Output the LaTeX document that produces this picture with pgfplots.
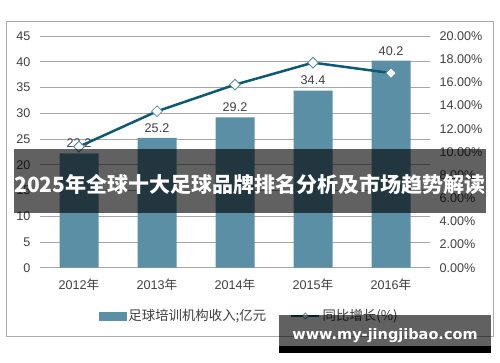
\documentclass[border=0pt]{standalone}
\usepackage{fontspec}
\setmainfont{Liberation Sans}
\newfontfamily\cjk{Noto Sans CJK SC}
\newfontfamily\dejavu{DejaVu Sans}
\usepackage{pgfplots}
\pgfplotsset{compat=1.18}
\definecolor{barc}{RGB}{91,143,166}
\definecolor{linec}{RGB}{12,90,115}
\definecolor{txt}{RGB}{64,64,64}
\definecolor{gridc}{RGB}{166,166,166}
\definecolor{framec}{RGB}{170,170,170}
\begin{document}
\begin{tikzpicture}[x=1pt,y=1pt]
\useasboundingbox (0,0) rectangle (500,362);
\fill[white] (0,0) rectangle (500,362);
\draw[framec, line width=1pt] (6,25.3) rectangle (493,340.3);

\begin{axis}[
  at={(40pt,94.3pt)}, anchor=south west,
  scale only axis, width=390pt, height=231.7pt,
  xmin=-0.5, xmax=4.5, ymin=0, ymax=45,
  xtick={0,1,2,3,4},
  xticklabels={{2012{\cjk 年}},{2013{\cjk 年}},{2014{\cjk 年}},{2015{\cjk 年}},{2016{\cjk 年}}},
  ytick={0,5,10,15,20,25,30,35,40,45},
  axis x line*=bottom, axis y line*=left,
  y axis line style={draw=none},
  x axis line style={gridc, line width=1pt},
  major tick length=0pt,
  ymajorgrids, grid style={gridc, line width=0.9pt},
  tick label style={font=\fontsize{12.6}{14}\selectfont, text=txt},
  /pgf/number format/assume math mode=true,
  xticklabel style={yshift=-8pt},
  yticklabel style={xshift=-6pt},
  ybar, bar width=39pt,
  nodes near coords,
  nodes near coords style={font=\fontsize{12.6}{14}\selectfont, text=txt, /pgf/number format/fixed, /pgf/number format/precision=1, /pgf/number format/fixed zerofill, yshift=2pt},
]
\addplot[fill=barc, draw=none] coordinates {(0,22.2) (1,25.2) (2,29.2) (3,34.4) (4,40.2)};
\end{axis}

\begin{axis}[
  at={(40pt,94.3pt)}, anchor=south west,
  scale only axis, width=390pt, height=231.7pt,
  xmin=-0.5, xmax=4.5, ymin=0, ymax=20,
  hide x axis,
  axis y line*=right, y axis line style={draw=none},
  major tick length=0pt,
  ytick={0,2,4,6,8,10,12,14,16,18,20},
  yticklabel={\pgfmathprintnumber[fixed,fixed zerofill,precision=2]{\tick}\%},
  tick label style={font=\fontsize{12.6}{14}\selectfont, text=txt},
  /pgf/number format/assume math mode=true,
  yticklabel style={xshift=6pt},
  legend columns=2,
  legend style={at={(0.151,-0.208)}, anchor=west, draw=none, fill=none, inner sep=0pt,
    font=\cjk\fontsize{13.4}{15}\selectfont, text=txt,
    /tikz/every even column/.append style={column sep=22pt}},
]
\addlegendimage{legend image code/.code={\fill[barc] (0pt,-4pt) rectangle (27pt,4pt);}}
\addlegendentry{足球培训机构收入;亿元}
\addplot[linec, line width=2.5pt, mark=square*, mark size=3.8pt,
  mark options={rotate=45, fill=white, draw=linec!70, line width=0.8pt},
  legend image code/.code={\draw[linec,line width=2.5pt] (0pt,0pt) -- (28pt,0pt);
    \draw[linec!70,fill=white,line width=0.6pt] (14pt,-3pt) -- (17pt,0pt) -- (14pt,3pt) -- (11pt,0pt) -- cycle;}]
  coordinates {(0,10.45) (1,13.5) (2,15.8) (3,17.7) (4,16.8)};
\addlegendentry{同比增长(\%)}
\end{axis}

\fill[black, opacity=0.62] (14,149.3) rectangle (486,212.7);
\node[white, font=\cjk\bfseries\fontsize{21}{24}\selectfont] at (250,177.5) {2025年全球十大足球品牌排名分析及市场趋势解读};

\fill[black, opacity=0.62] (279,16.3) rectangle (491,47);
\fill[black] (279,9.3) rectangle (491,16.3);
\node[white, font=\dejavu\bfseries\fontsize{14.5}{16}\selectfont] at (385,26) {www.my-jingjibao.com};
\end{tikzpicture}
\end{document}
